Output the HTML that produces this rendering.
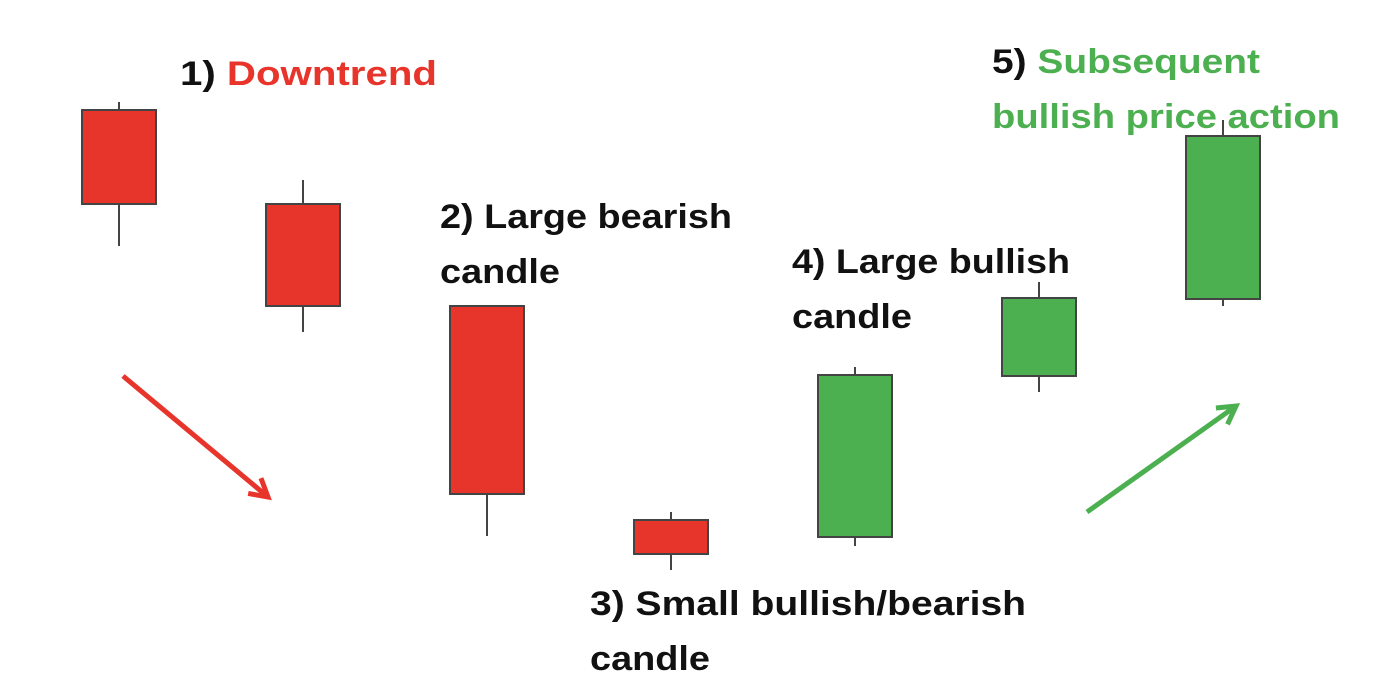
<!DOCTYPE html>
<html><head><meta charset="utf-8"><style>
html,body{margin:0;padding:0;background:#fff;}
svg{display:block;}
text{font-family:"Liberation Sans",sans-serif;font-weight:bold;font-size:34px;}
</style></head><body>
<svg id="chart" width="1392" height="684" viewBox="0 0 1392 684" xmlns="http://www.w3.org/2000/svg">
<defs>
<marker id="ar" viewBox="0 0 10 10" refX="8" refY="5" markerWidth="5" markerHeight="5" orient="auto"><path d="M1,1 L8,5 L1,9" fill="none" stroke="#e8352b" stroke-width="2"/></marker>
<marker id="ag" viewBox="0 0 10 10" refX="8" refY="5" markerWidth="5" markerHeight="5" orient="auto"><path d="M1,1 L8,5 L1,9" fill="none" stroke="#4caf50" stroke-width="2"/></marker>
</defs>
<g id="candles"></g>
<line x1="123" y1="376" x2="268" y2="497" stroke="#e8352b" stroke-width="5" marker-end="url(#ar)"/>
<line x1="1087" y1="512" x2="1236" y2="406" stroke="#4caf50" stroke-width="5" marker-end="url(#ag)"/>
<text x="180" y="85" textLength="257" lengthAdjust="spacingAndGlyphs"><tspan fill="#111">1) </tspan><tspan fill="#e8352b">Downtrend</tspan></text>
<text fill="#111" x="440" y="228" textLength="292" lengthAdjust="spacingAndGlyphs">2) Large bearish</text>
<text fill="#111" x="440" y="283" textLength="120" lengthAdjust="spacingAndGlyphs">candle</text>
<text fill="#111" x="792" y="273" textLength="278" lengthAdjust="spacingAndGlyphs">4) Large bullish</text>
<text fill="#111" x="792" y="328" textLength="120" lengthAdjust="spacingAndGlyphs">candle</text>
<text fill="#111" x="590" y="615" textLength="436" lengthAdjust="spacingAndGlyphs">3) Small bullish/bearish</text>
<text fill="#111" x="590" y="670" textLength="120" lengthAdjust="spacingAndGlyphs">candle</text>
<text x="992" y="73" textLength="268" lengthAdjust="spacingAndGlyphs"><tspan fill="#111">5) </tspan><tspan fill="#4caf50">Subsequent</tspan></text>
<text fill="#4caf50" x="992" y="128" textLength="348" lengthAdjust="spacingAndGlyphs">bullish price action</text>
</svg>
<script>
const categories = ["c1","c2","c3","c4","c5","c6","c7"];
const opens  = [490, 396, 294, 80, 63, 224, 301];
const closes = [396, 294, 106, 46, 225, 302, 464];
const highs  = [498, 420, 294, 88, 233, 318, 480];
const lows   = [354, 268, 64, 30, 54, 208, 294];

const yScale = v => 600 - v;
const xScale = i => 119 + i * 184;
const bw = 74;
const g = document.getElementById('candles');
const NS = 'http://www.w3.org/2000/svg';
categories.forEach((c, i) => {
  const cx = xScale(i);
  const up = closes[i] > opens[i];
  const w = document.createElementNS(NS, 'line');
  
  
  w.setAttribute('x1', cx); w.setAttribute('x2', cx);
  w.setAttribute('y1', yScale(highs[i])); w.setAttribute('y2', yScale(lows[i]));
  w.setAttribute('stroke', '#444'); w.setAttribute('stroke-width', 2);
  g.appendChild(w);
  const r = document.createElementNS(NS, 'rect');
  
  
  const top = yScale(Math.max(opens[i], closes[i]));
  const bot = yScale(Math.min(opens[i], closes[i]));
  r.setAttribute('x', cx - bw/2); r.setAttribute('y', top);
  r.setAttribute('width', bw); r.setAttribute('height', bot - top);
  r.setAttribute('fill', up ? '#4caf50' : '#e8352b');
  r.setAttribute('stroke', '#444'); r.setAttribute('stroke-width', 2);
  g.appendChild(r);
});
</script>
</body></html>
